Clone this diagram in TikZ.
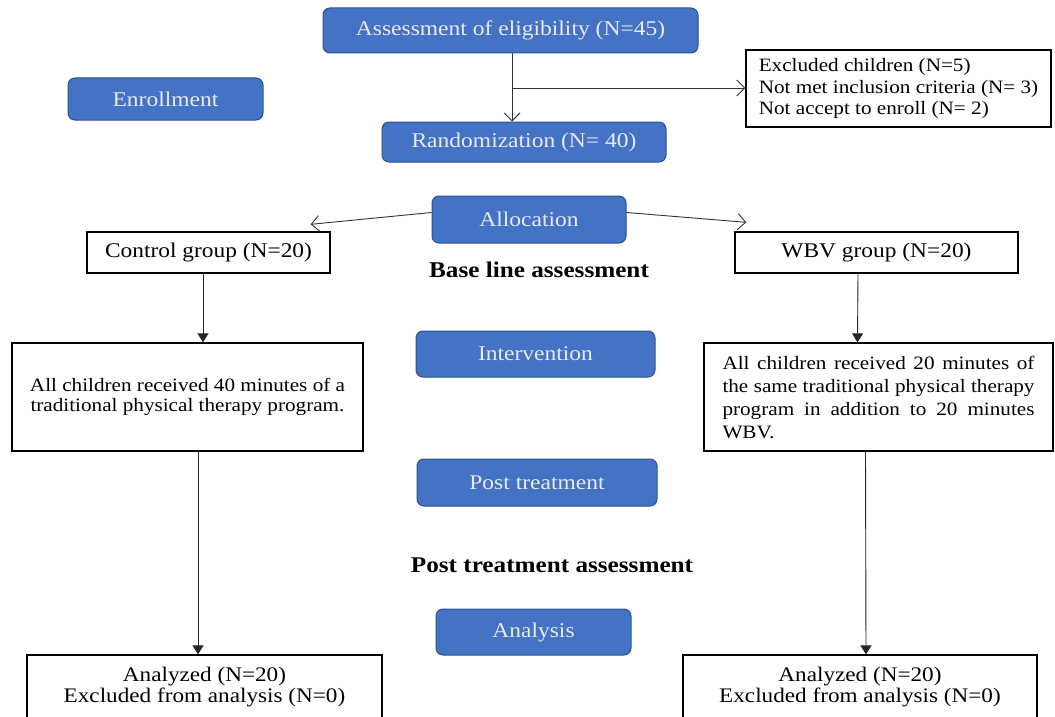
\documentclass[tikz,border=0pt]{standalone}
\usepackage{fontspec}
\setmainfont[FakeStretch=1.12]{Liberation Serif}
\usetikzlibrary{arrows.meta}
\definecolor{boxblue}{RGB}{68,114,196}
\definecolor{boxedge}{RGB}{47,82,143}
\definecolor{boxtext}{RGB}{232,234,242}
\begin{document}
\begin{tikzpicture}[x=1pt,y=-1pt,
  bluebox/.style={draw=boxedge, line width=1pt, fill=boxblue, rounded corners=7pt, text=boxtext, inner sep=0pt, font=\fontsize{21}{25}\selectfont},
  whitebox/.style={draw=black, line width=1.3pt, fill=white, inner sep=0pt},
  openarrow/.style={draw=black!80, line width=0.9pt, -{Straight Barb[length=8pt,width=16pt]}},
  fillarrow/.style={draw=black!85, line width=0.9pt, -{Triangle[length=9pt,width=11pt]}},
  boldlabel/.style={font=\bfseries\fontsize{22.5}{26}\selectfont}
]
\useasboundingbox (0,0) rectangle (1055,717);
\fill[white] (0,0) rectangle (1055,717);

% blue stage boxes
\node[bluebox, minimum width=375pt, minimum height=45pt] (elig) at (510.5,30.5) {Assessment of eligibility (N=45)};
\node[bluebox, minimum width=284pt, minimum height=40pt] (rand) at (524,142) {Randomization (N= 40)};
\node[bluebox, minimum width=195pt, minimum height=42pt] (enroll) at (165.5,99) {Enrollment};
\node[bluebox, minimum width=194pt, minimum height=47pt] (alloc) at (529,219.5) {Allocation};
\node[bluebox, minimum width=239pt, minimum height=46pt] (interv) at (535.5,354) {Intervention};
\node[bluebox, minimum width=240pt, minimum height=47pt] (post) at (537,482.5) {Post treatment};
\node[bluebox, minimum width=195pt, minimum height=46pt] (analysis) at (533.5,632) {Analysis};

% white boxes
\node[whitebox, minimum width=305pt, minimum height=77pt, align=left,
      font=\fontsize{18.9}{21.5}\selectfont] (excl) at (898.5,88.5)
  {Excluded children (N=5)\\Not met inclusion criteria (N= 3)\\Not accept to enroll (N= 2)};
\node[whitebox, minimum width=243pt, minimum height=41pt, font=\fontsize{20.9}{24}\selectfont] (ctrl) at (208.5,252.5) {Control group (N=20)};
\node[whitebox, minimum width=283pt, minimum height=41pt, font=\fontsize{20.9}{24}\selectfont] (wbv) at (876.5,252.5) {WBV group (N=20)};
\node[whitebox, minimum width=351pt, minimum height=108pt, align=center,
      font=\fontsize{18.9}{20}\selectfont] (intL) at (187.5,397)
  {All children received 40 minutes of a\\traditional physical therapy program.};
\node[whitebox, minimum width=349pt, minimum height=108pt, align=left,
      font=\fontsize{18.9}{23}\selectfont] (intR) at (878.5,397)
  {\makebox[312pt][s]{All children received 20 minutes of}\\
   \makebox[312pt][s]{the same traditional physical therapy}\\
   \makebox[312pt][s]{program in addition to 20 minutes}\\
   \makebox[312pt][l]{WBV.}};
\node[whitebox, minimum width=355pt, minimum height=64pt, align=center,
      font=\fontsize{20.7}{21}\selectfont] (anaL) at (204.5,687)
  {Analyzed (N=20)\\Excluded from analysis (N=0)};
\node[whitebox, minimum width=354pt, minimum height=64pt, align=center,
      font=\fontsize{20.7}{21}\selectfont] (anaR) at (860,687)
  {Analyzed (N=20)\\Excluded from analysis (N=0)};

% bold labels
\node[boldlabel] (base) at (539,270) {Base line assessment};
\node[boldlabel] (postass) at (552,565) {Post treatment assessment};

% connectors
\coordinate (split) at (512,88);
\draw[openarrow] (elig.south -| split) -- (rand.north -| split);
\draw[openarrow] (split) -- (excl.west |- split);
\draw[openarrow] ([yshift=7pt]alloc.west) -- ([shift={(-20pt,7pt)}]ctrl.north east);
\draw[openarrow] ([yshift=7pt]alloc.east) -- ([shift={(12pt,9pt)}]wbv.north west);
\draw[fillarrow] ([xshift=-5.5pt]ctrl.south) -- ([xshift=15.5pt]intL.north);
\draw[fillarrow] ([xshift=10.5pt]intL.south) -- ([xshift=-6.5pt]anaL.north);
\draw[fillarrow] ([xshift=-18.5pt]wbv.south) -- ([xshift=-21pt]intR.north);
\draw[fillarrow] ([xshift=-13pt]intR.south) -- ([xshift=6pt]anaR.north);
\end{tikzpicture}
\end{document}
